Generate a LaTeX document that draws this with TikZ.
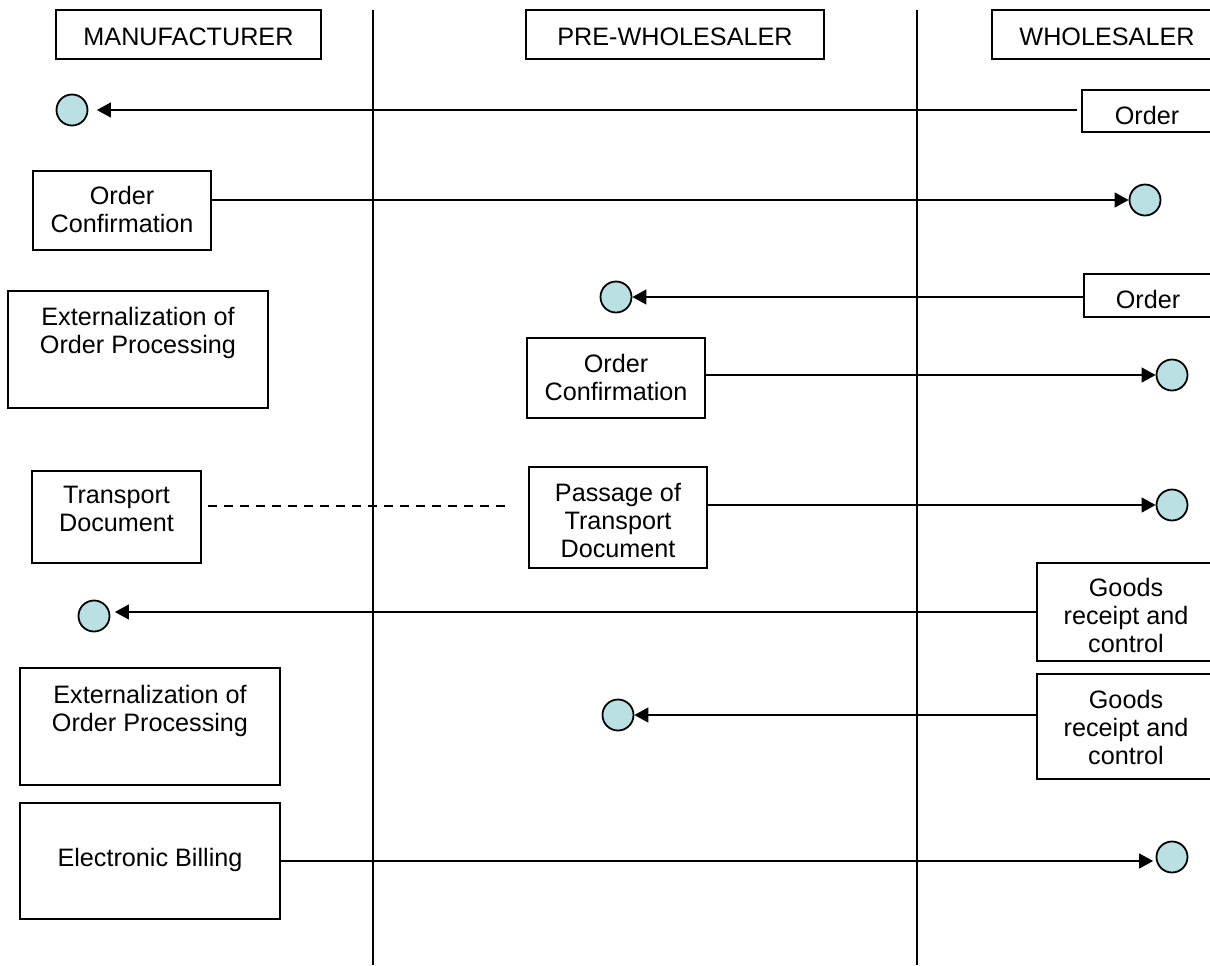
\documentclass[tikz,border=0pt]{standalone}
\usepackage{fontspec}
\setmainfont{Liberation Sans}
\usetikzlibrary{arrows.meta}
\definecolor{dotfill}{RGB}{187,224,227}

\begin{document}
\begin{tikzpicture}[x=0.5pt,y=-0.5pt,
  box/.style={draw, line width=0.7pt, anchor=north west, inner sep=0pt, outer sep=0pt},
  txt/.style={anchor=north, align=center, inner sep=0pt, font=\fontsize{12.6}{14}\selectfont},
  dot/.style={circle, draw, line width=0.9pt, fill=dotfill, minimum size=15.5pt, inner sep=0pt},
  flow/.style={line width=0.65pt, -{Triangle[length=7pt,width=7.5pt]}},
  lane/.style={line width=0.85pt},
  dashline/.style={line width=0.6pt, dash pattern=on 4.5pt off 3.5pt}]

\useasboundingbox (0,0) rectangle (1210,965);
\fill[white] (0,0) rectangle (1210,965);
\clip (0,0) rectangle (1210,965);

% swim-lane separators
\coordinate (l1t) at (373,10);
\coordinate (l1b) at (373,965);
\coordinate (l2t) at (917,10);
\coordinate (l2b) at (917,965);
\draw[lane] (l1t) -- (l1b);
\draw[lane] (l2t) -- (l2b);

% lane headers
\node[box, minimum width=132.5pt, minimum height=24.5pt] (man) at (56,10) {};
\node[txt] (man-t) at ([yshift=-8.5pt]man.north) {MANUFACTURER};
\node[box, minimum width=149pt, minimum height=24.5pt] (pre) at (526,10) {};
\node[txt] (pre-t) at ([yshift=-8.5pt]pre.north) {PRE-WHOLESALER};
\node[box, minimum width=115pt, minimum height=24.5pt] (whs) at (992,10) {};
\node[txt] (whs-t) at ([yshift=-8.5pt]whs.north) {WHOLESALER};

% activity boxes
\node[box, minimum width=65pt, minimum height=21pt] (ord1) at (1082,90) {};
\node[txt] (ord1-t) at ([yshift=-8pt]ord1.north) {Order};

\node[box, minimum width=89pt, minimum height=39.5pt] (oc1) at (33,171) {};
\node[txt] (oc1-t) at ([yshift=-7.5pt]oc1.north) {Order\\Confirmation};

\node[box, minimum width=130pt, minimum height=58.5pt] (ext1) at (8,291) {};
\node[txt] (ext1-t) at ([yshift=-8pt]ext1.north) {Externalization of\\Order Processing};

\node[box, minimum width=64pt, minimum height=21.5pt] (ord2) at (1084,274) {};
\node[txt] (ord2-t) at ([yshift=-8pt]ord2.north) {Order};

\node[box, minimum width=89pt, minimum height=40pt] (oc2) at (527,338) {};
\node[txt] (oc2-t) at ([yshift=-8pt]oc2.north) {Order\\Confirmation};

\node[box, minimum width=84.5pt, minimum height=46pt] (td) at (32,471) {};
\node[txt] (td-t) at ([yshift=-7.5pt]td.north) {Transport\\Document};

\node[box, minimum width=89pt, minimum height=50.5pt] (pas) at (529,467) {};
\node[txt] (pas-t) at ([yshift=-8pt]pas.north) {Passage of\\Transport\\Document};

\node[box, minimum width=89pt, minimum height=49pt] (g1) at (1037,563) {};
\node[txt] (g1-t) at ([yshift=-7.5pt]g1.north) {Goods\\receipt and\\control};

\node[box, minimum width=89pt, minimum height=52.5pt] (g2) at (1037,674) {};
\node[txt] (g2-t) at ([yshift=-8pt]g2.north) {Goods\\receipt and\\control};

\node[box, minimum width=130pt, minimum height=58.5pt] (ext2) at (20,668) {};
\node[txt] (ext2-t) at ([yshift=-8.5pt]ext2.north) {Externalization of\\Order Processing};

\node[box, minimum width=130pt, minimum height=58pt] (eb) at (20,803) {};
\node[txt] (eb-t) at ([yshift=-22.5pt]eb.north) {Electronic Billing};

% message end points
\node[dot] (c1) at (72,110) {};
\node[dot] (c2) at (1145,200) {};
\node[dot] (c3) at (616,297) {};
\node[dot] (c4) at (1172,375) {};
\node[dot] (c5) at (1172,505) {};
\node[dot] (c6) at (94,616) {};
\node[dot] (c7) at (618,715) {};
\node[dot] (c8) at (1172,857) {};

% messages
\draw[flow, shorten <=2.5pt, shorten >=4.25pt] (c1 -| ord1.west) -- (c1);
\draw[flow] (c2 -| oc1.east) -- (c2);
\draw[flow] (c3 -| ord2.west) -- (c3);
\draw[flow] (c4 -| oc2.east) -- (c4);
\draw[flow] (c5 -| pas.east) -- (c5);
\draw[flow, shorten >=2.25pt] (g1.west) -- (g1.west -| c6.east);
\draw[flow] (c7 -| g2.west) -- (c7);
\draw[flow, shorten >=1.25pt] (eb.east) -- (eb.east -| c8.west);

% document hand-over
\draw[dashline] ([shift={(7,-11)}]td.east) -- ([shift={(-20,-11.5)}]pas.west);
\end{tikzpicture}
\end{document}
